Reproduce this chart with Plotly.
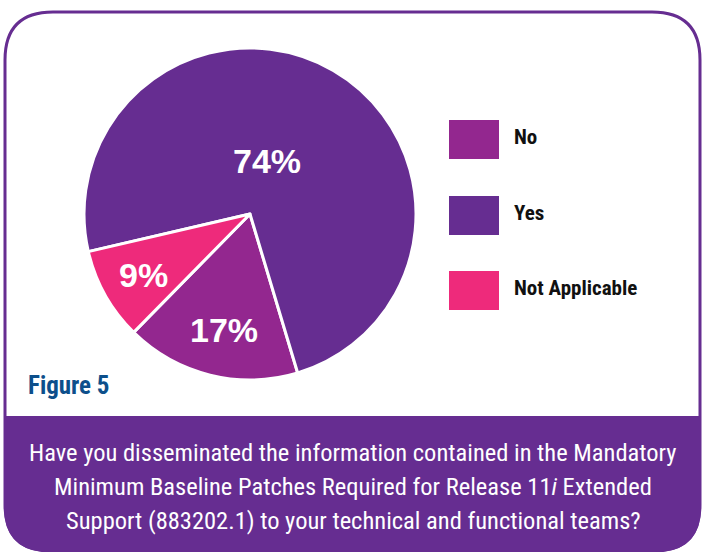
import plotly.graph_objects as go

# Survey responses (percent)
labels = ["No", "Yes", "Not Applicable"]
values = [17, 74, 9]
colors = ["#93278f", "#662d91", "#ee2a7b"]

question_lines = [
    "Have you disseminated the information contained in the Mandatory",
    "Minimum Baseline Patches Required for Release 11<i>i</i> Extended",
    "Support (883202.1) to your technical and functional teams?",
]
figure_label = "Figure 5"

W, H = 704, 552
PURPLE = "#662d91"
COND = "Roboto Condensed, Liberation Sans Narrow, Arial Narrow, Roboto, sans-serif"

# pie geometry (pixels)
cx, cy, r = 250, 214, 166

fig = go.Figure()
fig.add_trace(go.Pie(
    labels=labels,
    values=values,
    sort=False,
    direction="counterclockwise",
    rotation=163.3,
    marker=dict(colors=colors, line=dict(color="white", width=3)),
    textinfo="none",
    hoverinfo="label+percent",
    showlegend=False,
    domain=dict(x=[(cx - r) / W, (cx + r) / W], y=[1 - (cy + r) / H, 1 - (cy - r) / H]),
))


def rounded_path(x0, y0, x1, y1, rt, rb):
    p = f"M {x0},{y0 + rt} Q {x0},{y0} {x0 + rt},{y0} " if rt else f"M {x0},{y0} "
    p += f"L {x1 - rt},{y0} " + (f"Q {x1},{y0} {x1},{y0 + rt} " if rt else "")
    p += f"L {x1},{y1 - rb} Q {x1},{y1} {x1 - rb},{y1} "
    p += f"L {x0 + rb},{y1} Q {x0},{y1} {x0},{y1 - rb} Z"
    return p


shapes = [
    # card outline
    dict(type="path", xref="x", yref="y", layer="below",
         path=rounded_path(5, 12, 700, 551, 48, 46),
         fillcolor="white", line=dict(color=PURPLE, width=3)),
    # question banner
    dict(type="path", xref="x", yref="y", layer="below",
         path=rounded_path(4, 416, 701, 552, 0, 46),
         fillcolor=PURPLE, line=dict(width=0)),
]

annotations = []

# legend swatches and names
legend_rows = [120, 196, 271]
for name, col, top in zip(labels, colors, legend_rows):
    shapes.append(dict(type="rect", xref="x", yref="y", x0=449, x1=499, y0=top, y1=top + 39,
                       fillcolor=col, line=dict(width=0)))
    annotations.append(dict(x=512, y=top + 17, xref="x", yref="y", text=f"<b>{name}</b>",
                            showarrow=False, xanchor="left", yanchor="middle",
                            font=dict(family=COND, size=21, color="#111111")))

# percentage labels inside slices
label_pos = {"No": (224, 330), "Yes": (267, 161), "Not Applicable": (143, 275)}
for name, v in zip(labels, values):
    x, y = label_pos[name]
    annotations.append(dict(x=x, y=y, xref="x", yref="y", text=f"<b>{v}%</b>",
                            showarrow=False, xanchor="center", yanchor="middle",
                            font=dict(family="Liberation Sans, Arial, sans-serif", size=34, color="white")))

annotations.append(dict(x=26, y=385, xref="x", yref="y", text=f"<b>{figure_label}</b>",
                        showarrow=False, xanchor="left", yanchor="middle",
                        font=dict(family=COND, size=25, color="#0d4f8b")))

for i, line in enumerate(question_lines):
    annotations.append(dict(x=353, y=452 + 34 * i, xref="x", yref="y", text=line,
                            showarrow=False, xanchor="center", yanchor="middle",
                            font=dict(family=COND, size=24.5, color="white")))

fig.update_layout(
    width=W, height=H,
    margin=dict(l=0, r=0, t=0, b=0),
    paper_bgcolor="white", plot_bgcolor="rgba(0,0,0,0)",
    xaxis=dict(range=[0, W], visible=False, fixedrange=True, domain=[0, 1]),
    yaxis=dict(range=[H, 0], visible=False, fixedrange=True, domain=[0, 1]),
    shapes=shapes,
    annotations=annotations,
    showlegend=False,
)

fig.write_html("out.html")
